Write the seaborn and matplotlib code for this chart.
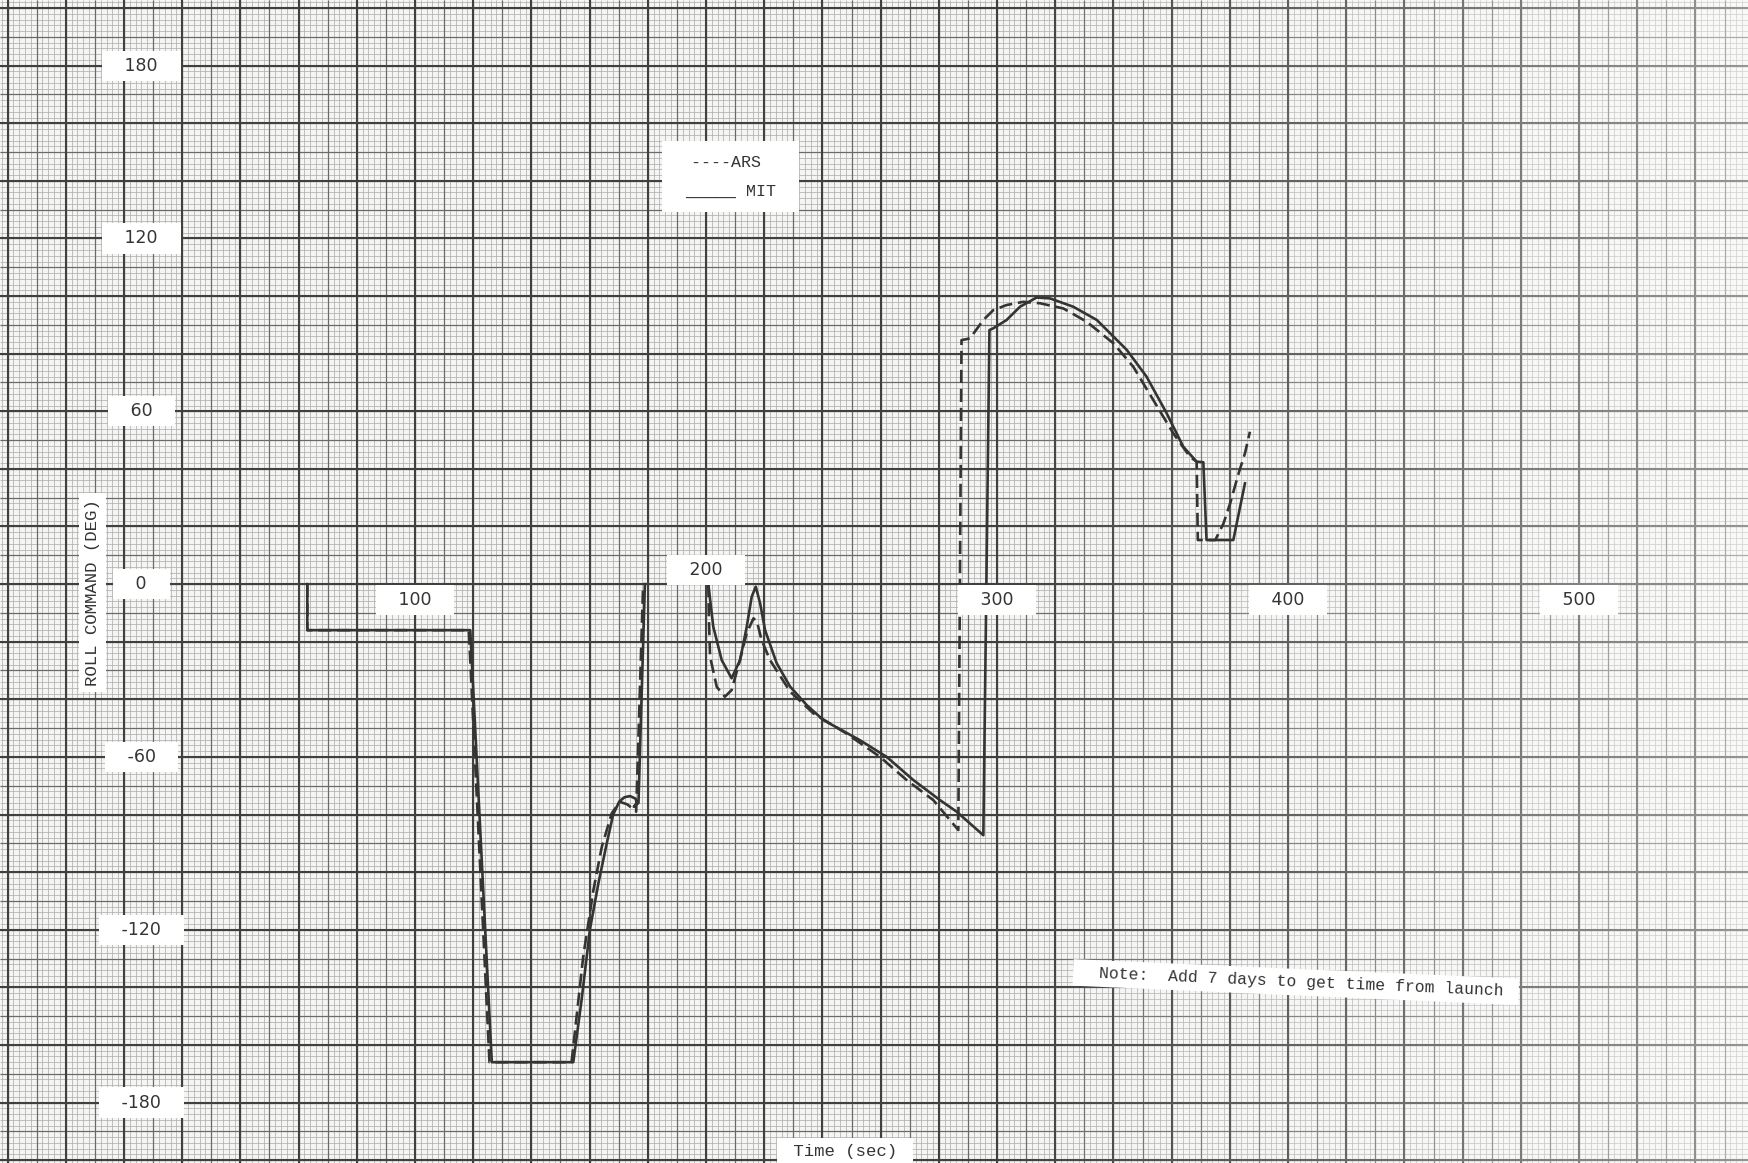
import numpy as np
import pandas as pd
import seaborn as sns
import matplotlib.pyplot as plt

# roll command traces (time in sec, roll in deg)
mit_t1 = [63, 63, 119, 126.4, 154.4, 157.3, 160.1, 163, 165.9, 168.1, 170.2, 172, 173.9,
          175.8, 176.2, 175.2, 176.8, 179]
mit_r1 = [0, -16, -16, -166, -166, -144, -120, -104, -90, -80, -75.5, -74, -73.6,
          -74.5, -76, -77.3, -76, 0]
mit_t2 = [200.8, 202.5, 205.4, 208.8, 211.7, 214, 215.7, 217.1, 218.6, 220.3, 224.3, 228.9,
          234.6, 240.3, 252.9, 262.1, 271.2, 280.4, 286.1, 295.3, 297.4, 298.7, 303.3,
          307.9, 313.6, 318.2, 326.2, 334.3, 344.6, 351.4, 358.3, 364, 368.6, 370.9,
          372, 381.2, 385.2]
mit_r2 = [0, -14.8, -26.4, -32.7, -26.4, -14.8, -4.4, -0.9, -6.7, -16, -27.5, -35.6,
          -42, -47.2, -54.2, -60, -68, -75, -79, -87.2, 88.2, 88.8, 91.7,
          96.3, 99.5, 99.2, 96.3, 91.7, 81.3, 72, 59.3, 47.7, 42.5, 42.3,
          15.3, 15.3, 35]

ars_t1 = [63, 63, 118.5, 125.6, 153.8, 157.8, 161.3, 164.2, 167.6, 170.4, 173, 176, 178.4]
ars_r1 = [0, -16, -16, -166, -166, -129.4, -106.3, -91.2, -79.6, -75.6, -76.5, -79, 0]
ars_t2 = [200.8, 201, 201.4, 203.7, 206.5, 208.8, 211.5, 214, 216.3, 217.5, 219.1, 222,
          228.9, 236.9, 248.3, 259.8, 268.9, 278.1, 286.7, 287.8, 290.7, 295.3, 298.7,
          303.3, 309, 314.8, 322.8, 330.8, 340, 346.8, 353.7, 360.6, 366.3, 368.6,
          369, 375, 377.8, 380.1, 383, 385.2, 386.9]
ars_r2 = [0, -12, -25.2, -35.7, -39.1, -36.8, -27, -17, -11.9, -13, -19.4, -26.4,
          -37.3, -44.9, -51.9, -60, -68, -75, -85.4, 84.7, 85.3, 91.7, 95.1,
          96.9, 98, 97.5, 95.7, 91.1, 83.6, 75.5, 63.9, 52.3, 44.2, 42.5,
          15.3, 15.3, 21, 28, 38.4, 45.4, 52.9]

x_ticks = [100, 200, 300, 400, 500]
y_ticks = [180, 120, 60, 0, -60, -120, -180]

frames = []
for src, seg, t, r in [("ARS", 1, ars_t1, ars_r1), ("ARS", 2, ars_t2, ars_r2),
                       ("MIT", 1, mit_t1, mit_r1), ("MIT", 2, mit_t2, mit_r2)]:
    frames.append(pd.DataFrame({"Time": t, "Roll": r, "Source": src, "Seg": seg}))
df = pd.concat(frames, ignore_index=True)

paper = "#f5f5f3"
ink = "#343434"

fig = plt.figure(figsize=(17.49, 11.63), dpi=100)
fig.patch.set_facecolor(paper)
ax = fig.add_axes([0, 0, 1, 1])
ax.set_facecolor(paper)

x_lo, x_hi = -42.6, 558.4
y_lo, y_hi = -201.0, 202.8

# graph paper: fine every 2, medium every 10, heavy every 20
ax.vlines(np.arange(-42, 560, 2), y_lo, y_hi, color="#b0b0b0", lw=0.55, zorder=0.5)
ax.hlines(np.arange(-200, 204, 2), x_lo, x_hi, color="#b0b0b0", lw=0.55, zorder=0.5)
ax.vlines(np.arange(-40, 560, 10), y_lo, y_hi, color="#6a6a6a", lw=0.9, zorder=0.6)
ax.hlines(np.arange(-200, 204, 10), x_lo, x_hi, color="#6a6a6a", lw=0.9, zorder=0.6)
ax.vlines(np.arange(-40, 560, 20), y_lo, y_hi, color="#404040", lw=1.5, zorder=0.7)
ax.hlines(np.arange(-200, 204, 20), x_lo, x_hi, color="#404040", lw=1.5, zorder=0.7)

# faded right half of the scan
fade = np.ones((2, 256, 4))
fade[..., 3] = np.clip(np.linspace(-0.1, 0.45, 256), 0, None)
ax.imshow(fade, extent=(240, x_hi, y_lo, y_hi), aspect="auto", zorder=1)

sns.lineplot(data=df, x="Time", y="Roll", style="Source", units="Seg", estimator=None,
             sort=False, dashes={"ARS": (5, 2.2), "MIT": ""}, color=ink, lw=1.9,
             legend=False, ax=ax, zorder=3)

ax.set_xlim(x_lo, x_hi)
ax.set_ylim(y_lo, y_hi)
ax.set_xlabel("")
ax.set_ylabel("")
ax.set_xticks([])
ax.set_yticks([])
for s in ax.spines.values():
    s.set_visible(False)

box = dict(facecolor="white", edgecolor="none", boxstyle="square,pad=0.35")
tick_font = dict(family="DejaVu Sans", fontsize=12.5, color=ink, ha="center", va="center",
                 bbox=box, zorder=4)
mono = dict(family="Liberation Mono", fontsize=12.5, color=ink, bbox=box, zorder=4)

for v in y_ticks:
    ax.text(6, v, "   %d   " % v, **tick_font)
for v in x_ticks:
    yy = 4.9 if v == 200 else -5.6
    ax.text(v, yy, "   %d   " % v, **tick_font)

ax.text(208.5, 141.5, " ----ARS  \n\n _____ MIT ", ha="center", va="center",
        linespacing=0.95, family="Liberation Mono", fontsize=12, color=ink,
        bbox=dict(facecolor="white", edgecolor="none", boxstyle="square,pad=0.8"), zorder=4)

ax.text(-10.7, -2.8, "ROLL COMMAND (DEG)", rotation=90, ha="center", va="center", **mono)
ax.text(247.8, -197, " Time (sec) ", ha="center", va="center", **mono)
ax.text(402.7, -138.2, "  Note:  Add 7 days to get time from launch ", rotation=-2.5,
        ha="center", va="center", rotation_mode="anchor",
        family="Liberation Mono", fontsize=11.8, color=ink, bbox=box, zorder=4)

fig.savefig("out.png", dpi=100, facecolor=paper)
